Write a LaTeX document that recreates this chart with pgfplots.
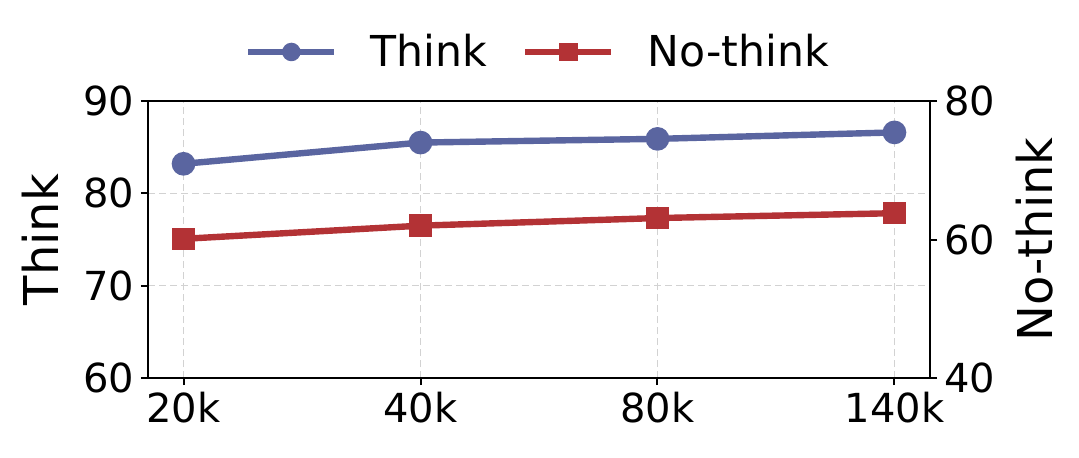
\documentclass[border=0pt]{standalone}
\usepackage{fontspec}
\setmainfont{DejaVu Sans}
\usepackage{pgfplots}
\pgfplotsset{compat=1.18}
\definecolor{thinkc}{HTML}{5A65A0}
\definecolor{nothc}{HTML}{B33235}
\begin{document}
\begin{tikzpicture}
\pgfplotsset{
  every axis/.append style={
    width=391pt, height=138.5pt, scale only axis,
    xmin=-0.15, xmax=3.15,
    xtick={0,1,2,3}, xticklabels={20k,40k,80k,140k},
    tick label style={font=\fontsize{20}{24}\selectfont},
    label style={font=\fontsize{24}{28}\selectfont},
    /pgf/number format/assume math mode=true,
    axis line style={line width=1pt},
    tick style={line width=1pt, black},
    major tick length=3.5pt,
    tick align=outside,
  }
}
\begin{axis}[
  name=main,
  ymin=60, ymax=90, ytick={60,70,80,90},
  xtick pos=bottom, ytick pos=left,
  ylabel={Think},
  ylabel style={anchor=center, at={(axis description cs:-0.138,0.5)}},
  grid=major,
  grid style={dash pattern=on 3.5pt off 2pt, gray!35, line width=0.6pt},
  legend style={draw=none, at={(0.5,1.177)}, anchor=center, legend columns=2,
    font=\fontsize{21.3}{25}\selectfont,
    /tikz/every odd column/.append style={column sep=14.5pt},
    /tikz/every even column/.append style={column sep=15.5pt}},
  legend image code/.code={
    \draw[#1] (0pt,0pt) -- (21.5pt,0pt) -- (43pt,0pt);
    \draw[#1, only marks, mark size=3pt] plot coordinates {(21.5pt,0pt)};
  },
  clip=false,
]
\addplot[color=thinkc, line width=3.2pt, mark=*, mark size=4.3pt, mark options={solid}] coordinates {
  (0,83.2) (1,85.5) (2,85.9) (3,86.6)
};
\addlegendentry{Think}
\addlegendimage{color=nothc, line width=3.2pt, mark=square*, mark size=4pt}
\addlegendentry{No-think}
\end{axis}
\begin{axis}[
  ymin=40, ymax=80, ytick={40,60,80},
  axis y line*=right, axis x line=none,
  ylabel={No-think},
  ylabel style={anchor=center, rotate=0, at={(axis description cs:1.134,0.5)}},
  clip=false,
]
\addplot[color=nothc, line width=3.2pt, mark=square*, mark size=4pt] coordinates {
  (0,60.1) (1,62.0) (2,63.1) (3,63.8)
};
\end{axis}
\useasboundingbox ([shift={(-74pt,-39.5pt)}]main.south west) rectangle ([shift={(465.5pt,189pt)}]main.south west);
\end{tikzpicture}
\end{document}
